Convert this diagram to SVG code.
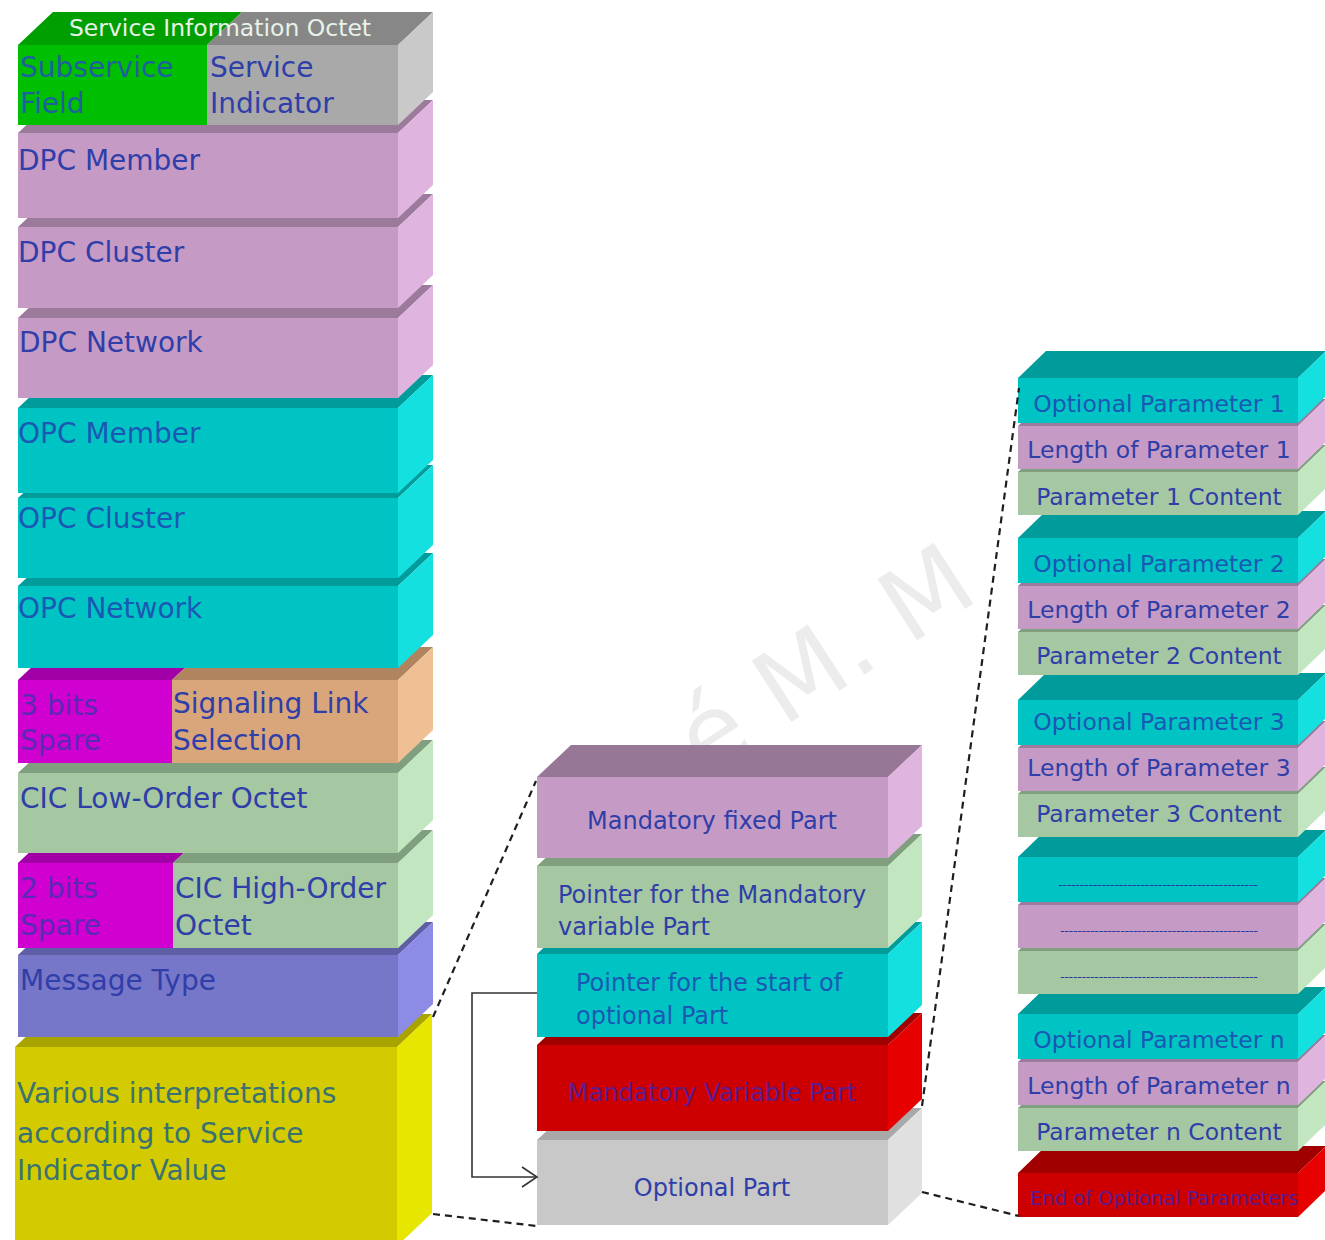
<svg xmlns="http://www.w3.org/2000/svg" xmlns:xlink="http://www.w3.org/1999/xlink" width="1325" height="1240" viewBox="0 0 1325 1240">
  <style>
    text { font-family: "DejaVu Sans", "Liberation Sans", sans-serif; fill: #2f3ea8; }
    .big { font-size: 28px; }
    .mid { font-size: 24px; }
    .sml { font-size: 23.5px; }
    .c { text-anchor: middle; }
    .t-grn { fill: #1f5fa0; }
    .t-teal { fill: #1a58b4; }
    .t-yel { fill: #3a7272; }
    .t-mag { fill: #5a2ab4; }
    .t-red { fill: #5c1c92; }
    .dots { font-size: 13px; fill: #2a3a9c; }
    /* face colours: front / top / side */
    .pk-f { fill: #c59bc5; } .pk-t { fill: #9c7a9c; } .pk-s { fill: #dfb4df; }
    .tl-f { fill: #00c4c4; } .tl-t { fill: #009c9c; } .tl-s { fill: #14e0e0; }
    .lg-f { fill: #a5c8a2; } .lg-t { fill: #7f9f7f; } .lg-s { fill: #c2e6bf; }
    .mg-f { fill: #d000d0; } .mg-t { fill: #a000a6; }
    .or-f { fill: #d9a67c; } .or-t { fill: #b0845e; } .or-s { fill: #efc094; }
    .pw-f { fill: #7777c9; } .pw-t { fill: #5e5ea6; } .pw-s { fill: #8c8ce6; }
    .ye-f { fill: #d3cb00; } .ye-t { fill: #a9a300; } .ye-s { fill: #e6e600; }
    .rd-f { fill: #cc0000; } .rd-t { fill: #a00000; } .rd-s { fill: #e60000; }
    .gy-f { fill: #c8c8c8; } .gy-t { fill: #a9a9a9; } .gy-s { fill: #e0e0e0; }
    .gn-f { fill: #00bf00; } .gn-t { fill: #009f00; }
    .dg-f { fill: #a9a9a9; } .dg-t { fill: #878787; } .dg-s { fill: #c9c9c9; }
    .dash { fill: none; stroke: #1e1e1e; stroke-width: 2.2; stroke-dasharray: 7 5; }
    .link { fill: none; stroke: #333; stroke-width: 1.6; }
    .wm { font-size: 100px; fill: #ececec; }
  </style>
  <defs>
    <!-- one parameter block of the optional part: type / length / content -->
    <g id="param-box">
      <polygon class="lg-t" points="1018,94 1046,67 1326,67 1298,94"/>
      <polygon class="lg-s" points="1298,94 1326,67 1326,110 1298,137"/>
      <rect class="lg-f" x="1018" y="94" width="280" height="43"/>
      <polygon class="pk-t" points="1018,48 1046,21 1326,21 1298,48"/>
      <polygon class="pk-s" points="1298,48 1326,21 1326,64 1298,91"/>
      <rect class="pk-f" x="1018" y="48" width="280" height="43"/>
      <polygon class="tl-t" points="1018,0 1046,-27 1326,-27 1298,0"/>
      <polygon class="tl-s" points="1298,0 1326,-27 1326,18 1298,45"/>
      <rect class="tl-f" x="1018" y="0" width="280" height="45"/>
    </g>
  </defs>

  <rect width="1325" height="1240" fill="#ffffff"/>

  <!-- watermark -->
  <text class="wm" transform="translate(705,778) rotate(-33)">é M. M</text>

  <!-- ISUP message stack (bottom boxes first) -->
  <g id="various">
    <polygon class="ye-t" points="15,1047 50,1014 432,1014 397,1047"/>
    <polygon class="ye-s" points="397,1047 432,1014 432,1213 397,1246"/>
    <rect class="ye-f" x="15" y="1047" width="382" height="199"/>
    <text class="big t-yel" x="17" y="1103">Various interpretations</text>
    <text class="big t-yel" x="17" y="1143">according to Service</text>
    <text class="big t-yel" x="17" y="1180">Indicator Value</text>
  </g>
  <g id="message-type">
    <polygon class="pw-t" points="18,955 53,922 433,922 398,955"/>
    <polygon class="pw-s" points="398,955 433,922 433,1004 398,1037"/>
    <rect class="pw-f" x="18" y="955" width="380" height="82"/>
    <text class="big" x="20" y="990">Message Type</text>
  </g>
  <g id="cic-high">
    <polygon class="mg-t" points="18,863 53,830 208,830 173,863"/>
    <polygon class="lg-t" points="173,863 208,830 433,830 398,863"/>
    <polygon class="lg-s" points="398,863 433,830 433,915 398,948"/>
    <rect class="mg-f" x="18" y="863" width="155" height="85"/>
    <rect class="lg-f" x="173" y="863" width="225" height="85"/>
    <text class="big t-mag" x="20" y="898">2 bits</text>
    <text class="big t-mag" x="20" y="935">Spare</text>
    <text class="big" x="175" y="898">CIC High-Order</text>
    <text class="big" x="175" y="935">Octet</text>
  </g>
  <g id="cic-low">
    <polygon class="lg-t" points="18,773 53,740 433,740 398,773"/>
    <polygon class="lg-s" points="398,773 433,740 433,820 398,853"/>
    <rect class="lg-f" x="18" y="773" width="380" height="80"/>
    <text class="big" x="20" y="808">CIC Low-Order Octet</text>
  </g>
  <g id="sls">
    <polygon class="mg-t" points="18,680 53,647 207,647 172,680"/>
    <polygon class="or-t" points="172,680 207,647 433,647 398,680"/>
    <polygon class="or-s" points="398,680 433,647 433,730 398,763"/>
    <rect class="mg-f" x="18" y="680" width="154" height="83"/>
    <rect class="or-f" x="172" y="680" width="226" height="83"/>
    <text class="big t-mag" x="20" y="715">3 bits</text>
    <text class="big t-mag" x="20" y="750">Spare</text>
    <text class="big" x="173" y="713">Signaling Link</text>
    <text class="big" x="173" y="750">Selection</text>
  </g>
  <g id="opc-network">
    <polygon class="tl-t" points="18,586 53,553 433,553 398,586"/>
    <polygon class="tl-s" points="398,586 433,553 433,635 398,668"/>
    <rect class="tl-f" x="18" y="586" width="380" height="82"/>
    <text class="big t-teal" x="18" y="618">OPC Network</text>
  </g>
  <g id="opc-cluster">
    <polygon class="tl-t" points="18,498 53,465 433,465 398,498"/>
    <polygon class="tl-s" points="398,498 433,465 433,545 398,578"/>
    <rect class="tl-f" x="18" y="498" width="380" height="80"/>
    <text class="big t-teal" x="18" y="528">OPC Cluster</text>
  </g>
  <g id="opc-member">
    <polygon class="tl-t" points="18,408 53,375 433,375 398,408"/>
    <polygon class="tl-s" points="398,408 433,375 433,460 398,493"/>
    <rect class="tl-f" x="18" y="408" width="380" height="85"/>
    <text class="big t-teal" x="18" y="443">OPC Member</text>
  </g>
  <g id="dpc-network">
    <polygon class="pk-t" points="18,318 53,285 433,285 398,318"/>
    <polygon class="pk-s" points="398,318 433,285 433,365 398,398"/>
    <rect class="pk-f" x="18" y="318" width="380" height="80"/>
    <text class="big" x="19" y="352">DPC Network</text>
  </g>
  <g id="dpc-cluster">
    <polygon class="pk-t" points="18,227 53,194 433,194 398,227"/>
    <polygon class="pk-s" points="398,227 433,194 433,275 398,308"/>
    <rect class="pk-f" x="18" y="227" width="380" height="81"/>
    <text class="big" x="18" y="262">DPC Cluster</text>
  </g>
  <g id="dpc-member">
    <polygon class="pk-t" points="18,133 53,100 433,100 398,133"/>
    <polygon class="pk-s" points="398,133 433,100 433,185 398,218"/>
    <rect class="pk-f" x="18" y="133" width="380" height="85"/>
    <text class="big" x="18" y="170">DPC Member</text>
  </g>
  <g id="sio">
    <polygon class="gn-t" points="18,45 53,12 242,12 207,45"/>
    <polygon class="dg-t" points="207,45 242,12 433,12 398,45"/>
    <polygon class="dg-s" points="398,45 433,12 433,92 398,125"/>
    <rect class="gn-f" x="18" y="45" width="189" height="80"/>
    <rect class="dg-f" x="207" y="45" width="191" height="80"/>
    <text x="220" y="36" class="c" style="font-size:23.5px; fill:#e8f2e8">Service Information Octet</text>
    <text class="big t-grn" x="20" y="77">Subservice</text>
    <text class="big t-grn" x="20" y="113">Field</text>
    <text class="big" x="210" y="77">Service</text>
    <text class="big" x="210" y="113">Indicator</text>
  </g>

  <!-- user part layout -->
  <g id="optional-part">
    <polygon class="gy-t" points="537,1140 571,1108 922,1108 888,1140"/>
    <polygon class="gy-s" points="888,1140 922,1108 922,1193 888,1225"/>
    <rect class="gy-f" x="537" y="1140" width="351" height="85"/>
    <text class="mid c" x="712" y="1196">Optional Part</text>
  </g>
  <g id="mandatory-variable">
    <polygon class="rd-t" points="537,1045 571,1013 922,1013 888,1045"/>
    <polygon class="rd-s" points="888,1045 922,1013 922,1099 888,1131"/>
    <rect class="rd-f" x="537" y="1045" width="351" height="86"/>
    <text class="mid c t-red" x="712" y="1101">Mandatory Variable Part</text>
  </g>
  <g id="pointer-optional">
    <polygon class="tl-t" points="537,954 571,922 922,922 888,954"/>
    <polygon class="tl-s" points="888,954 922,922 922,1005 888,1037"/>
    <rect class="tl-f" x="537" y="954" width="351" height="83"/>
    <text class="mid t-teal" x="576" y="991">Pointer for the start of</text>
    <text class="mid t-teal" x="576" y="1024">optional Part</text>
  </g>
  <g id="pointer-mandatory">
    <polygon class="lg-t" points="537,866 571,834 922,834 888,866"/>
    <polygon class="lg-s" points="888,866 922,834 922,916 888,948"/>
    <rect class="lg-f" x="537" y="866" width="351" height="82"/>
    <text class="mid" x="558" y="903">Pointer for the Mandatory</text>
    <text class="mid" x="558" y="935">variable Part</text>
  </g>
  <g id="mandatory-fixed">
    <polygon style="fill:#967896" points="537,777 571,745 922,745 888,777"/>
    <polygon class="pk-s" points="888,777 922,745 922,826 888,858"/>
    <rect class="pk-f" x="537" y="777" width="351" height="81"/>
    <text class="mid c" x="712" y="829">Mandatory fixed Part</text>
  </g>

  <!-- optional parameters -->
  <g id="end-of-optional">
    <polygon class="rd-t" points="1018,1173 1046,1146 1326,1146 1298,1173"/>
    <polygon class="rd-s" points="1298,1173 1326,1146 1326,1190 1298,1217"/>
    <rect class="rd-f" x="1018" y="1173" width="280" height="44"/>
    <text class="c t-red" x="1164" y="1205" style="font-size:19.5px">End of Optional Parameters</text>
  </g>
  <g id="param-n" transform="translate(0,1014)">
    <use xlink:href="#param-box"/>
    <text class="sml c t-teal" x="1159" y="34">Optional Parameter n</text>
    <text class="sml c" x="1159" y="80">Length of Parameter n</text>
    <text class="sml c" x="1159" y="126">Parameter n Content</text>
  </g>
  <g id="param-more" transform="translate(0,857)">
    <use xlink:href="#param-box"/>
    <text class="dots" x="1058" y="32" textLength="200" lengthAdjust="spacing">----------------------------------------------</text>
    <text class="dots" x="1060" y="78" textLength="198" lengthAdjust="spacing">----------------------------------------------</text>
    <text class="dots" x="1060" y="124" textLength="198" lengthAdjust="spacing">----------------------------------------------</text>
  </g>
  <g id="param-3" transform="translate(0,700)">
    <use xlink:href="#param-box"/>
    <text class="sml c t-teal" x="1159" y="30">Optional Parameter 3</text>
    <text class="sml c" x="1159" y="76">Length of Parameter 3</text>
    <text class="sml c" x="1159" y="122">Parameter 3 Content</text>
  </g>
  <g id="param-2" transform="translate(0,538)">
    <use xlink:href="#param-box"/>
    <text class="sml c t-teal" x="1159" y="34">Optional Parameter 2</text>
    <text class="sml c" x="1159" y="80">Length of Parameter 2</text>
    <text class="sml c" x="1159" y="126">Parameter 2 Content</text>
  </g>
  <g id="param-1" transform="translate(0,378)">
    <use xlink:href="#param-box"/>
    <text class="sml c t-teal" x="1159" y="34">Optional Parameter 1</text>
    <text class="sml c" x="1159" y="80">Length of Parameter 1</text>
    <text class="sml c" x="1159" y="127">Parameter 1 Content</text>
  </g>

  <!-- connectors -->
  <g id="connectors">
    <path class="dash" d="M433,1017 L536,781"/>
    <path class="dash" d="M433,1214 L537,1226"/>
    <path class="dash" d="M922,1192 L1019,1216"/>
    <path class="dash" d="M922,1106 L1019,388"/>
    <path class="link" d="M537,993 H472 V1177 H536"/>
    <path class="link" d="M522,1167 L537,1177 L522,1187"/>
  </g>
</svg>
